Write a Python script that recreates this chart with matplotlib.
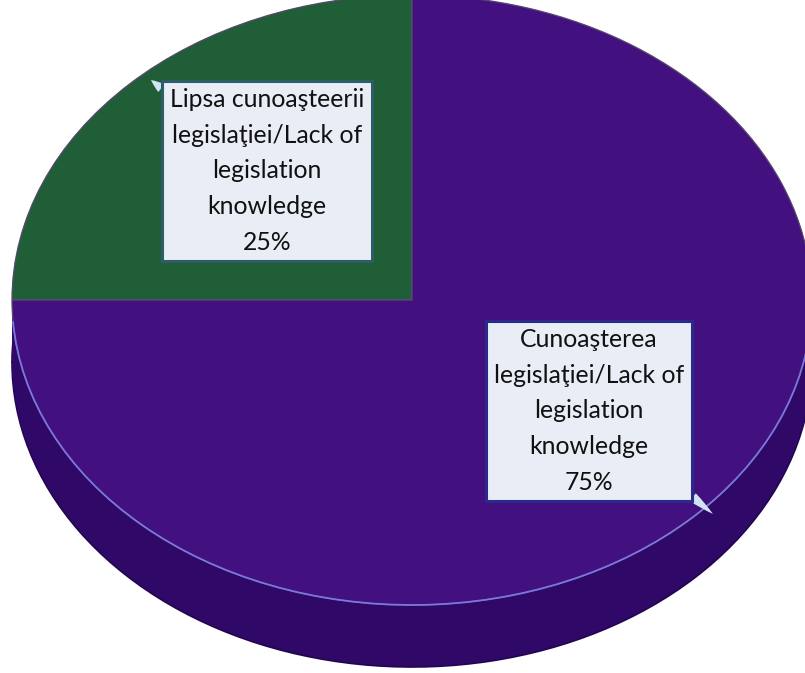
import numpy as np
import matplotlib
matplotlib.use("Agg")
import matplotlib.pyplot as plt
from matplotlib.patches import Arc

# ---- data ----
categories = ["Lipsa cunoaşteerii\nlegislaţiei/Lack of\nlegislation\nknowledge",
              "Cunoaşterea\nlegislaţiei/Lack of\nlegislation\nknowledge"]
values = [25, 75]
top_colors = ["#1f5e36", "#43107f"]
side_colors = ["#173f25", "#2f0868"]

plt.rcParams['font.family'] = ['Lato', 'DejaVu Sans']

W, H = 805, 673
fig = plt.figure(figsize=(W / 100, H / 100), dpi=100)
fig.patch.set_facecolor("white")

# ellipse geometry (pixels)
cx, cy, rx, ry, depth = 412, 300, 400, 305, 62
d = depth / ry

ax = fig.add_axes([0, 0, 1, 1])
# side (3D depth) built from stacked copies of the pie
offsets = np.linspace(d, 0.0, 30)
for i, off in enumerate(offsets):
    ax.pie(values, colors=side_colors, startangle=90, counterclock=True,
           center=(0, -off), radius=1,
           wedgeprops=dict(linewidth=1.2 if i == 0 else 0,
                           edgecolor="#22054f"))
# top face
wedges, _ = ax.pie(values, colors=top_colors, startangle=90, counterclock=True,
                   center=(0, 0), radius=1,
                   wedgeprops=dict(linewidth=0.9, edgecolor="#5a4a70"))
ax.add_patch(Arc((0, 0), 2, 2, theta1=184, theta2=358, color="#7a78dc",
                 lw=1.3, zorder=5))
ax.set_aspect("auto")
ax.set_xlim((0 - cx) / rx, (W - cx) / rx)
ax.set_ylim((cy - H) / ry, (cy - 0) / ry)
ax.axis("off")

# label overlay in pixel coordinates
ax2 = fig.add_axes([0, 0, 1, 1])
ax2.set_xlim(0, W)
ax2.set_ylim(H, 0)
ax2.axis("off")
ax2.patch.set_alpha(0)

label_pos = [(267, 171), (589, 411)]
tips = [(151, 80), (713, 514)]
edge_cols = ["#2e5d6a", "#2a2a8c"]
for lab, v, (tx, ty), tip, ec in zip(categories, values, label_pos, tips, edge_cols):
    ax2.annotate(f"{lab}\n{v}%", xy=tip, xytext=(tx, ty),
                 ha="center", va="center", fontsize=17.8, color="#111111",
                 linespacing=1.66,
                 bbox=dict(boxstyle="square,pad=0.3", fc="#e9edf5", ec=ec, lw=2.2),
                 arrowprops=dict(arrowstyle="wedge,tail_width=0.4,shrink_factor=0.6",
                                 fc="#cfe3f3", ec="none", shrinkA=0, shrinkB=0),
                 zorder=10)

fig.savefig("out.png", dpi=100)
